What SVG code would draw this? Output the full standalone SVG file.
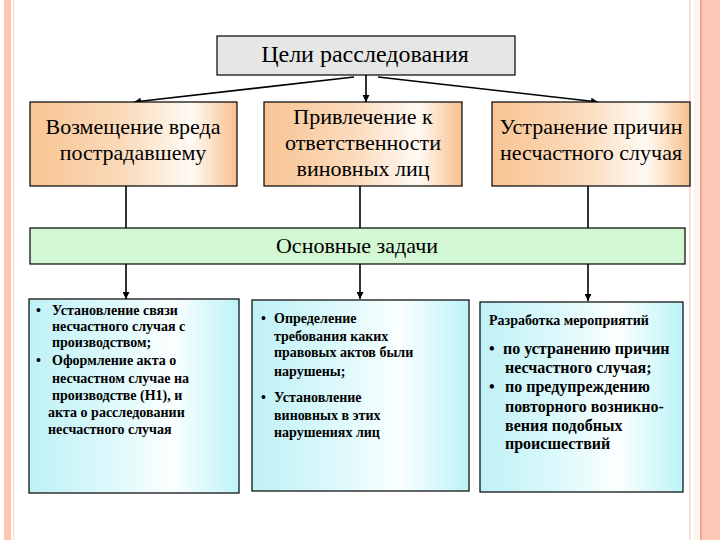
<svg xmlns="http://www.w3.org/2000/svg" width="720" height="540" viewBox="0 0 720 540">
<defs>
<style>
.box{stroke:#000;stroke-width:1.2}
.big{font-size:22px;text-anchor:middle}
.sm{font-size:14px;font-weight:bold}
.md{font-size:16px;font-weight:bold}
.ln{stroke:#000;stroke-width:1.6;fill:none}
</style>
<linearGradient id="og" x1="0" y1="0" x2="1" y2="0">
<stop offset="0" stop-color="#F8C494"/>
<stop offset="0.45" stop-color="#FBDABA"/>
<stop offset="0.78" stop-color="#FFFAF4"/>
<stop offset="1" stop-color="#F8C08D"/>
</linearGradient>
<linearGradient id="cg" x1="0" y1="0" x2="1" y2="0">
<stop offset="0" stop-color="#BFF1F6"/>
<stop offset="0.4" stop-color="#DDF9FB"/>
<stop offset="0.68" stop-color="#FBFFFF"/>
<stop offset="1" stop-color="#BDF3F7"/>
</linearGradient>
<marker id="ah" viewBox="0 0 10 10" refX="10" refY="5" markerWidth="7" markerHeight="7" orient="auto" markerUnits="userSpaceOnUse">
<path d="M0,0 L10,5 L0,10 z" fill="#000"/>
</marker>
</defs>
<rect width="720" height="540" fill="#fff"/>
<g id="frame">
<rect x="4" y="0" width="7" height="540" fill="#FCC6B2"/>
<rect x="13" y="0" width="1.5" height="540" fill="#FBE6DC"/>
<rect x="689" y="0" width="1.5" height="540" fill="#EFD6CA"/>
<rect x="694" y="0" width="5" height="540" fill="#FFF4EC"/>
<rect x="700" y="0" width="2" height="540" fill="#F4A78E"/>
<rect x="702" y="0" width="18" height="540" fill="#FCC8B6"/>
</g>
<g id="connectors">
<line class="ln" x1="354" y1="77" x2="134" y2="102" marker-end="url(#ah)"/>
<line class="ln" x1="366" y1="75" x2="366" y2="102" marker-end="url(#ah)"/>
<line class="ln" x1="378" y1="77" x2="598" y2="102" marker-end="url(#ah)"/>
<line class="ln" x1="126" y1="186" x2="126" y2="228"/>
<line class="ln" x1="360" y1="186" x2="360" y2="228"/>
<line class="ln" x1="588" y1="186" x2="588" y2="228"/>
<line class="ln" x1="126" y1="264" x2="126" y2="299" marker-end="url(#ah)"/>
<line class="ln" x1="360" y1="264" x2="360" y2="299" marker-end="url(#ah)"/>
<line class="ln" x1="588" y1="264" x2="588" y2="301" marker-end="url(#ah)"/>
</g>
<g id="goals" font-family="Liberation Serif, Times New Roman, serif">
<rect class="box" x="217" y="36" width="298" height="39" fill="#E6E6E6"/>
<text x="365" y="62" font-size="24" text-anchor="middle">Цели расследования</text>
</g>
<g id="compensation" font-family="Liberation Serif, Times New Roman, serif">
<rect class="box" x="30" y="102" width="207" height="84" fill="url(#og)"/>
<text class="big" x="133" y="134">Возмещение вреда</text>
<text class="big" x="133" y="160">пострадавшему</text>
</g>
<g id="liability" font-family="Liberation Serif, Times New Roman, serif">
<rect class="box" x="264" y="102" width="198" height="84" fill="url(#og)"/>
<text class="big" x="363" y="124">Привлечение к</text>
<text class="big" x="363" y="150">ответственности</text>
<text class="big" x="363" y="176">виновных лиц</text>
</g>
<g id="elimination" font-family="Liberation Serif, Times New Roman, serif">
<rect class="box" x="492" y="102" width="198" height="84" fill="url(#og)"/>
<text class="big" x="591" y="134">Устранение причин</text>
<text class="big" x="591" y="160">несчастного случая</text>
</g>
<g id="tasks" font-family="Liberation Serif, Times New Roman, serif">
<rect class="box" x="30" y="228" width="655" height="36" fill="#D2F7D2"/>
<text x="357" y="253" font-size="22" text-anchor="middle">Основные задачи</text>
</g>
<g id="task1" font-family="Liberation Serif, Times New Roman, serif">
<rect class="box" x="29" y="299" width="210" height="194" fill="url(#cg)"/>
<text class="sm"><tspan x="36" y="315">•</tspan><tspan x="52" y="315">Установление связи</tspan></text>
<text class="sm" x="52" y="331">несчастного случая с</text>
<text class="sm" x="52" y="347">производством;</text>
<text class="sm"><tspan x="36" y="365">•</tspan><tspan x="52" y="365">Оформление акта о</tspan></text>
<text class="sm" x="52" y="383">несчастном случае на</text>
<text class="sm" x="52" y="400">производстве (Н1), и</text>
<text class="sm" x="48" y="417">акта о расследовании</text>
<text class="sm" x="48" y="434">несчастного случая</text>
</g>
<g id="task2" font-family="Liberation Serif, Times New Roman, serif">
<rect class="box" x="252" y="300" width="217" height="191" fill="url(#cg)"/>
<text class="sm"><tspan x="261" y="323">•</tspan><tspan x="274" y="323">Определение</tspan></text>
<text class="sm" x="274" y="341">требования каких</text>
<text class="sm" x="274" y="357">правовых актов были</text>
<text class="sm" x="274" y="376">нарушены;</text>
<text class="sm"><tspan x="261" y="402">•</tspan><tspan x="274" y="402">Установление</tspan></text>
<text class="sm" x="274" y="420">виновных в этих</text>
<text class="sm" x="274" y="437">нарушениях лиц</text>
</g>
<g id="task3" font-family="Liberation Serif, Times New Roman, serif">
<rect class="box" x="480" y="302" width="203" height="190" fill="url(#cg)"/>
<text x="489" y="325" font-size="14" font-weight="bold">Разработка мероприятий</text>
<text class="md"><tspan x="489" y="354">•</tspan><tspan x="503" y="354">по устранению причин</tspan></text>
<text class="md" x="505" y="373">несчастного случая;</text>
<text class="md"><tspan x="489" y="392">•</tspan><tspan x="505" y="392">по предупреждению</tspan></text>
<text class="md" x="505" y="412">повторного возникно-</text>
<text class="md" x="505" y="431">вения подобных</text>
<text class="md" x="505" y="449">происшествий</text>
</g>
</svg>
